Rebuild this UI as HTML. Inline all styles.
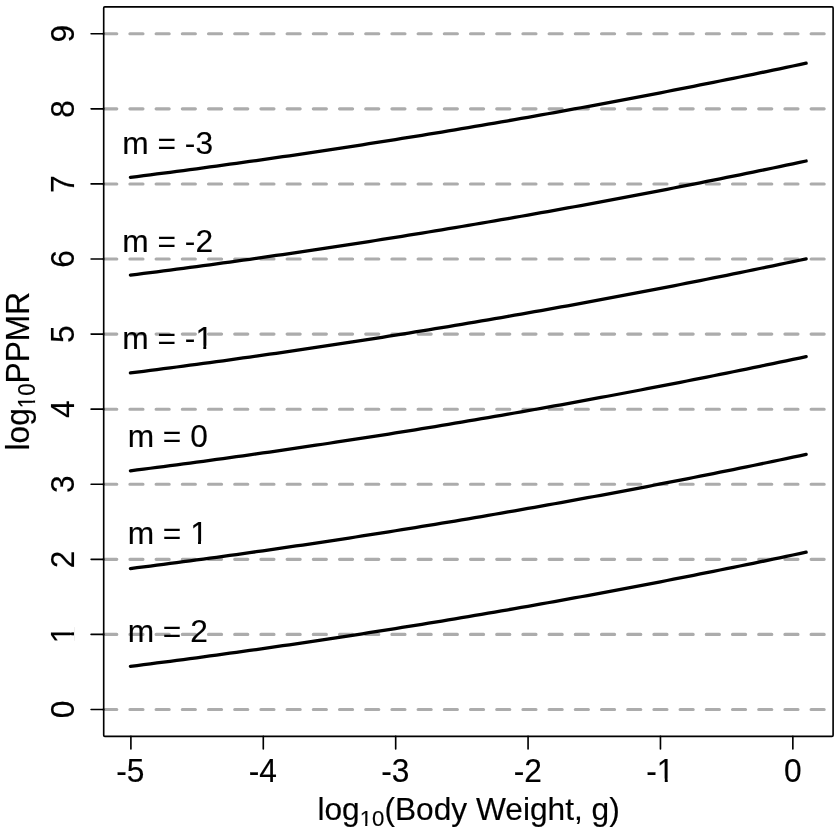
<!DOCTYPE html><html><head><meta charset="utf-8"><style>html,body{margin:0;padding:0;background:#fff;}svg{display:block;}svg text,svg tspan{font-family:"Liberation Sans",Arial,sans-serif;fill:#000;stroke:#000;stroke-width:0.15px;}</style></head><body>
<svg width="840" height="833" viewBox="0 0 840 833">
<rect width="840" height="833" fill="#fff"/>
<g stroke="#acacac" stroke-width="3.1" stroke-linecap="round" stroke-dasharray="13.1 13.1" fill="none">
<line x1="103.7" y1="709.50" x2="833.1" y2="709.50"/>
<line x1="103.7" y1="634.42" x2="833.1" y2="634.42"/>
<line x1="103.7" y1="559.34" x2="833.1" y2="559.34"/>
<line x1="103.7" y1="484.26" x2="833.1" y2="484.26"/>
<line x1="103.7" y1="409.18" x2="833.1" y2="409.18"/>
<line x1="103.7" y1="334.10" x2="833.1" y2="334.10"/>
<line x1="103.7" y1="259.02" x2="833.1" y2="259.02"/>
<line x1="103.7" y1="183.94" x2="833.1" y2="183.94"/>
<line x1="103.7" y1="108.86" x2="833.1" y2="108.86"/>
<line x1="103.7" y1="33.78" x2="833.1" y2="33.78"/>
</g>
<g stroke="#000" stroke-width="3.275" stroke-linecap="round" stroke-linejoin="round" fill="none">
<path d="M130.40,177.37 L137.02,176.54 L143.65,175.69 L150.28,174.85 L156.90,173.99 L163.53,173.13 L170.15,172.27 L176.77,171.40 L183.40,170.53 L190.03,169.64 L196.65,168.76 L203.27,167.87 L209.90,166.97 L216.53,166.06 L223.15,165.16 L229.78,164.24 L236.40,163.32 L243.02,162.39 L249.65,161.46 L256.28,160.53 L262.90,159.58 L269.52,158.63 L276.15,157.68 L282.77,156.72 L289.40,155.76 L296.02,154.79 L302.65,153.81 L309.27,152.83 L315.90,151.84 L322.53,150.85 L329.15,149.85 L335.77,148.84 L342.40,147.83 L349.02,146.82 L355.65,145.80 L362.27,144.77 L368.90,143.74 L375.52,142.70 L382.15,141.66 L388.77,140.61 L395.40,139.55 L402.02,138.49 L408.65,137.43 L415.27,136.36 L421.90,135.28 L428.52,134.20 L435.15,133.11 L441.77,132.01 L448.40,130.91 L455.02,129.81 L461.65,128.70 L468.27,127.58 L474.90,126.46 L481.52,125.33 L488.15,124.20 L494.77,123.06 L501.40,121.92 L508.02,120.77 L514.65,119.61 L521.27,118.45 L527.90,117.28 L534.52,116.11 L541.15,114.93 L547.77,113.75 L554.40,112.56 L561.02,111.37 L567.65,110.17 L574.27,108.96 L580.90,107.75 L587.52,106.53 L594.15,105.31 L600.77,104.08 L607.40,102.85 L614.02,101.61 L620.65,100.36 L627.27,99.11 L633.90,97.85 L640.52,96.59 L647.15,95.32 L653.77,94.05 L660.40,92.77 L667.02,91.49 L673.65,90.20 L680.27,88.90 L686.90,87.60 L693.52,86.30 L700.15,84.98 L706.77,83.66 L713.40,82.34 L720.02,81.01 L726.65,79.68 L733.27,78.34 L739.90,76.99 L746.52,75.64 L753.15,74.28 L759.77,72.92 L766.40,71.55 L773.02,70.18 L779.65,68.80 L786.27,67.41 L792.90,66.02 L799.52,64.63 L806.15,63.22"/>
<path d="M130.40,275.17 L137.02,274.34 L143.65,273.49 L150.28,272.65 L156.90,271.79 L163.53,270.93 L170.15,270.07 L176.77,269.20 L183.40,268.33 L190.03,267.44 L196.65,266.56 L203.27,265.67 L209.90,264.77 L216.53,263.86 L223.15,262.96 L229.78,262.04 L236.40,261.12 L243.02,260.19 L249.65,259.26 L256.28,258.33 L262.90,257.38 L269.52,256.43 L276.15,255.48 L282.77,254.52 L289.40,253.56 L296.02,252.59 L302.65,251.61 L309.27,250.63 L315.90,249.64 L322.53,248.65 L329.15,247.65 L335.77,246.64 L342.40,245.63 L349.02,244.62 L355.65,243.60 L362.27,242.57 L368.90,241.54 L375.52,240.50 L382.15,239.46 L388.77,238.41 L395.40,237.35 L402.02,236.29 L408.65,235.23 L415.27,234.16 L421.90,233.08 L428.52,232.00 L435.15,230.91 L441.77,229.81 L448.40,228.71 L455.02,227.61 L461.65,226.50 L468.27,225.38 L474.90,224.26 L481.52,223.13 L488.15,222.00 L494.77,220.86 L501.40,219.72 L508.02,218.57 L514.65,217.41 L521.27,216.25 L527.90,215.08 L534.52,213.91 L541.15,212.73 L547.77,211.55 L554.40,210.36 L561.02,209.17 L567.65,207.97 L574.27,206.76 L580.90,205.55 L587.52,204.33 L594.15,203.11 L600.77,201.88 L607.40,200.65 L614.02,199.41 L620.65,198.16 L627.27,196.91 L633.90,195.65 L640.52,194.39 L647.15,193.12 L653.77,191.85 L660.40,190.57 L667.02,189.29 L673.65,188.00 L680.27,186.70 L686.90,185.40 L693.52,184.10 L700.15,182.78 L706.77,181.46 L713.40,180.14 L720.02,178.81 L726.65,177.48 L733.27,176.14 L739.90,174.79 L746.52,173.44 L753.15,172.08 L759.77,170.72 L766.40,169.35 L773.02,167.98 L779.65,166.60 L786.27,165.21 L792.90,163.82 L799.52,162.43 L806.15,161.02"/>
<path d="M130.40,372.97 L137.02,372.14 L143.65,371.29 L150.28,370.45 L156.90,369.59 L163.53,368.73 L170.15,367.87 L176.77,367.00 L183.40,366.13 L190.03,365.24 L196.65,364.36 L203.27,363.47 L209.90,362.57 L216.53,361.66 L223.15,360.76 L229.78,359.84 L236.40,358.92 L243.02,357.99 L249.65,357.06 L256.28,356.13 L262.90,355.18 L269.52,354.23 L276.15,353.28 L282.77,352.32 L289.40,351.36 L296.02,350.39 L302.65,349.41 L309.27,348.43 L315.90,347.44 L322.53,346.45 L329.15,345.45 L335.77,344.44 L342.40,343.43 L349.02,342.42 L355.65,341.40 L362.27,340.37 L368.90,339.34 L375.52,338.30 L382.15,337.26 L388.77,336.21 L395.40,335.15 L402.02,334.09 L408.65,333.03 L415.27,331.96 L421.90,330.88 L428.52,329.80 L435.15,328.71 L441.77,327.61 L448.40,326.51 L455.02,325.41 L461.65,324.30 L468.27,323.18 L474.90,322.06 L481.52,320.93 L488.15,319.80 L494.77,318.66 L501.40,317.52 L508.02,316.37 L514.65,315.21 L521.27,314.05 L527.90,312.88 L534.52,311.71 L541.15,310.53 L547.77,309.35 L554.40,308.16 L561.02,306.97 L567.65,305.77 L574.27,304.56 L580.90,303.35 L587.52,302.13 L594.15,300.91 L600.77,299.68 L607.40,298.45 L614.02,297.21 L620.65,295.96 L627.27,294.71 L633.90,293.45 L640.52,292.19 L647.15,290.92 L653.77,289.65 L660.40,288.37 L667.02,287.09 L673.65,285.80 L680.27,284.50 L686.90,283.20 L693.52,281.90 L700.15,280.58 L706.77,279.26 L713.40,277.94 L720.02,276.61 L726.65,275.28 L733.27,273.94 L739.90,272.59 L746.52,271.24 L753.15,269.88 L759.77,268.52 L766.40,267.15 L773.02,265.78 L779.65,264.40 L786.27,263.01 L792.90,261.62 L799.52,260.23 L806.15,258.82"/>
<path d="M130.40,470.77 L137.02,469.94 L143.65,469.09 L150.28,468.25 L156.90,467.39 L163.53,466.53 L170.15,465.67 L176.77,464.80 L183.40,463.93 L190.03,463.04 L196.65,462.16 L203.27,461.27 L209.90,460.37 L216.53,459.46 L223.15,458.56 L229.78,457.64 L236.40,456.72 L243.02,455.79 L249.65,454.86 L256.28,453.93 L262.90,452.98 L269.52,452.03 L276.15,451.08 L282.77,450.12 L289.40,449.16 L296.02,448.19 L302.65,447.21 L309.27,446.23 L315.90,445.24 L322.53,444.25 L329.15,443.25 L335.77,442.24 L342.40,441.23 L349.02,440.22 L355.65,439.20 L362.27,438.17 L368.90,437.14 L375.52,436.10 L382.15,435.06 L388.77,434.01 L395.40,432.95 L402.02,431.89 L408.65,430.83 L415.27,429.76 L421.90,428.68 L428.52,427.60 L435.15,426.51 L441.77,425.41 L448.40,424.31 L455.02,423.21 L461.65,422.10 L468.27,420.98 L474.90,419.86 L481.52,418.73 L488.15,417.60 L494.77,416.46 L501.40,415.32 L508.02,414.17 L514.65,413.01 L521.27,411.85 L527.90,410.68 L534.52,409.51 L541.15,408.33 L547.77,407.15 L554.40,405.96 L561.02,404.77 L567.65,403.57 L574.27,402.36 L580.90,401.15 L587.52,399.93 L594.15,398.71 L600.77,397.48 L607.40,396.25 L614.02,395.01 L620.65,393.76 L627.27,392.51 L633.90,391.25 L640.52,389.99 L647.15,388.72 L653.77,387.45 L660.40,386.17 L667.02,384.89 L673.65,383.60 L680.27,382.30 L686.90,381.00 L693.52,379.70 L700.15,378.38 L706.77,377.06 L713.40,375.74 L720.02,374.41 L726.65,373.08 L733.27,371.74 L739.90,370.39 L746.52,369.04 L753.15,367.68 L759.77,366.32 L766.40,364.95 L773.02,363.58 L779.65,362.20 L786.27,360.81 L792.90,359.42 L799.52,358.03 L806.15,356.62"/>
<path d="M130.40,568.57 L137.02,567.74 L143.65,566.89 L150.28,566.05 L156.90,565.19 L163.53,564.33 L170.15,563.47 L176.77,562.60 L183.40,561.73 L190.03,560.84 L196.65,559.96 L203.27,559.07 L209.90,558.17 L216.53,557.26 L223.15,556.36 L229.78,555.44 L236.40,554.52 L243.02,553.59 L249.65,552.66 L256.28,551.73 L262.90,550.78 L269.52,549.83 L276.15,548.88 L282.77,547.92 L289.40,546.96 L296.02,545.99 L302.65,545.01 L309.27,544.03 L315.90,543.04 L322.53,542.05 L329.15,541.05 L335.77,540.04 L342.40,539.03 L349.02,538.02 L355.65,537.00 L362.27,535.97 L368.90,534.94 L375.52,533.90 L382.15,532.86 L388.77,531.81 L395.40,530.75 L402.02,529.69 L408.65,528.63 L415.27,527.56 L421.90,526.48 L428.52,525.40 L435.15,524.31 L441.77,523.21 L448.40,522.11 L455.02,521.01 L461.65,519.90 L468.27,518.78 L474.90,517.66 L481.52,516.53 L488.15,515.40 L494.77,514.26 L501.40,513.12 L508.02,511.97 L514.65,510.81 L521.27,509.65 L527.90,508.48 L534.52,507.31 L541.15,506.13 L547.77,504.95 L554.40,503.76 L561.02,502.57 L567.65,501.37 L574.27,500.16 L580.90,498.95 L587.52,497.73 L594.15,496.51 L600.77,495.28 L607.40,494.05 L614.02,492.81 L620.65,491.56 L627.27,490.31 L633.90,489.05 L640.52,487.79 L647.15,486.52 L653.77,485.25 L660.40,483.97 L667.02,482.69 L673.65,481.40 L680.27,480.10 L686.90,478.80 L693.52,477.50 L700.15,476.18 L706.77,474.86 L713.40,473.54 L720.02,472.21 L726.65,470.88 L733.27,469.54 L739.90,468.19 L746.52,466.84 L753.15,465.48 L759.77,464.12 L766.40,462.75 L773.02,461.38 L779.65,460.00 L786.27,458.61 L792.90,457.22 L799.52,455.83 L806.15,454.42"/>
<path d="M130.40,666.37 L137.02,665.54 L143.65,664.69 L150.28,663.85 L156.90,662.99 L163.53,662.13 L170.15,661.27 L176.77,660.40 L183.40,659.53 L190.03,658.64 L196.65,657.76 L203.27,656.87 L209.90,655.97 L216.53,655.06 L223.15,654.16 L229.78,653.24 L236.40,652.32 L243.02,651.39 L249.65,650.46 L256.28,649.53 L262.90,648.58 L269.52,647.63 L276.15,646.68 L282.77,645.72 L289.40,644.76 L296.02,643.79 L302.65,642.81 L309.27,641.83 L315.90,640.84 L322.53,639.85 L329.15,638.85 L335.77,637.84 L342.40,636.83 L349.02,635.82 L355.65,634.80 L362.27,633.77 L368.90,632.74 L375.52,631.70 L382.15,630.66 L388.77,629.61 L395.40,628.55 L402.02,627.49 L408.65,626.43 L415.27,625.36 L421.90,624.28 L428.52,623.20 L435.15,622.11 L441.77,621.01 L448.40,619.91 L455.02,618.81 L461.65,617.70 L468.27,616.58 L474.90,615.46 L481.52,614.33 L488.15,613.20 L494.77,612.06 L501.40,610.92 L508.02,609.77 L514.65,608.61 L521.27,607.45 L527.90,606.28 L534.52,605.11 L541.15,603.93 L547.77,602.75 L554.40,601.56 L561.02,600.37 L567.65,599.17 L574.27,597.96 L580.90,596.75 L587.52,595.53 L594.15,594.31 L600.77,593.08 L607.40,591.85 L614.02,590.61 L620.65,589.36 L627.27,588.11 L633.90,586.85 L640.52,585.59 L647.15,584.32 L653.77,583.05 L660.40,581.77 L667.02,580.49 L673.65,579.20 L680.27,577.90 L686.90,576.60 L693.52,575.30 L700.15,573.98 L706.77,572.66 L713.40,571.34 L720.02,570.01 L726.65,568.68 L733.27,567.34 L739.90,565.99 L746.52,564.64 L753.15,563.28 L759.77,561.92 L766.40,560.55 L773.02,559.18 L779.65,557.80 L786.27,556.41 L792.90,555.02 L799.52,553.63 L806.15,552.22"/>
</g>
<rect x="103.7" y="6.85" width="729.40" height="729.55" rx="1.1" fill="none" stroke="#000" stroke-width="1.64" stroke-linejoin="round"/>
<g stroke="#000" stroke-width="1.64" stroke-linecap="round">
<line x1="130.90" y1="736.4" x2="130.90" y2="748.90"/>
<line x1="263.29" y1="736.4" x2="263.29" y2="748.90"/>
<line x1="395.68" y1="736.4" x2="395.68" y2="748.90"/>
<line x1="528.07" y1="736.4" x2="528.07" y2="748.90"/>
<line x1="660.46" y1="736.4" x2="660.46" y2="748.90"/>
<line x1="792.85" y1="736.4" x2="792.85" y2="748.90"/>
<line x1="103.7" y1="709.50" x2="91.10" y2="709.50"/>
<line x1="103.7" y1="634.42" x2="91.10" y2="634.42"/>
<line x1="103.7" y1="559.34" x2="91.10" y2="559.34"/>
<line x1="103.7" y1="484.26" x2="91.10" y2="484.26"/>
<line x1="103.7" y1="409.18" x2="91.10" y2="409.18"/>
<line x1="103.7" y1="334.10" x2="91.10" y2="334.10"/>
<line x1="103.7" y1="259.02" x2="91.10" y2="259.02"/>
<line x1="103.7" y1="183.94" x2="91.10" y2="183.94"/>
<line x1="103.7" y1="108.86" x2="91.10" y2="108.86"/>
<line x1="103.7" y1="33.78" x2="91.10" y2="33.78"/>
</g>
<g>
<text x="0" y="0" transform="translate(130.40,782.10) scale(1,1.04)" font-size="31.7" text-anchor="middle"><tspan dy="0.9">-</tspan><tspan dy="-0.9">5</tspan></text>
</g>
<g>
<text x="0" y="0" transform="translate(262.90,782.10) scale(1,1.04)" font-size="31.7" text-anchor="middle"><tspan dy="0.9">-</tspan><tspan dy="-0.9">4</tspan></text>
</g>
<g>
<text x="0" y="0" transform="translate(395.40,782.10) scale(1,1.04)" font-size="31.7" text-anchor="middle"><tspan dy="0.9">-</tspan><tspan dy="-0.9">3</tspan></text>
</g>
<g>
<text x="0" y="0" transform="translate(527.90,782.10) scale(1,1.04)" font-size="31.7" text-anchor="middle"><tspan dy="0.9">-</tspan><tspan dy="-0.9">2</tspan></text>
</g>
<g>
<text x="0" y="0" transform="translate(660.40,782.10) scale(1,1.04)" font-size="31.7" text-anchor="middle"><tspan dy="0.9">-</tspan><tspan dy="-0.9">1</tspan></text>
<rect x="658.28" y="778.64" width="6.48" height="4.16" fill="#fff"/>
<rect x="667.72" y="778.64" width="6.43" height="4.16" fill="#fff"/>
</g>
<g>
<text x="0" y="0" transform="translate(792.90,782.10) scale(1,1.04)" font-size="31.7" text-anchor="middle">0</text>
</g>
<g transform="translate(73.5,709.50) rotate(-90)">
<text x="0" y="0" transform="translate(0.00,0.00) scale(1,1.04)" font-size="31.7" text-anchor="middle">0</text>
</g>
<g transform="translate(73.5,634.42) rotate(-90)">
<text x="0" y="0" transform="translate(0.00,0.00) scale(1,1.04)" font-size="31.7" text-anchor="middle">1</text>
<rect x="-7.40" y="-3.46" width="6.48" height="4.16" fill="#fff"/>
<rect x="2.04" y="-3.46" width="6.43" height="4.16" fill="#fff"/>
</g>
<g transform="translate(73.5,559.34) rotate(-90)">
<text x="0" y="0" transform="translate(0.00,0.00) scale(1,1.04)" font-size="31.7" text-anchor="middle">2</text>
</g>
<g transform="translate(73.5,484.26) rotate(-90)">
<text x="0" y="0" transform="translate(0.00,0.00) scale(1,1.04)" font-size="31.7" text-anchor="middle">3</text>
</g>
<g transform="translate(73.5,409.18) rotate(-90)">
<text x="0" y="0" transform="translate(0.00,0.00) scale(1,1.04)" font-size="31.7" text-anchor="middle">4</text>
</g>
<g transform="translate(73.5,334.10) rotate(-90)">
<text x="0" y="0" transform="translate(0.00,0.00) scale(1,1.04)" font-size="31.7" text-anchor="middle">5</text>
</g>
<g transform="translate(73.5,259.02) rotate(-90)">
<text x="0" y="0" transform="translate(0.00,0.00) scale(1,1.04)" font-size="31.7" text-anchor="middle">6</text>
</g>
<g transform="translate(73.5,183.94) rotate(-90)">
<text x="0" y="0" transform="translate(0.00,0.00) scale(1,1.04)" font-size="31.7" text-anchor="middle">7</text>
</g>
<g transform="translate(73.5,108.86) rotate(-90)">
<text x="0" y="0" transform="translate(0.00,0.00) scale(1,1.04)" font-size="31.7" text-anchor="middle">8</text>
</g>
<g transform="translate(73.5,33.78) rotate(-90)">
<text x="0" y="0" transform="translate(0.00,0.00) scale(1,1.04)" font-size="31.7" text-anchor="middle">9</text>
</g>
<g>
<text x="167.70" y="153.91" font-size="31.7" text-anchor="middle">m = -3</text>
</g>
<g>
<text x="167.70" y="251.51" font-size="31.7" text-anchor="middle">m = -2</text>
</g>
<g>
<text x="167.70" y="349.12" font-size="31.7" text-anchor="middle">m = -1</text>
<rect x="196.82" y="345.75" width="6.48" height="4.07" fill="#fff"/>
<rect x="206.26" y="345.75" width="6.43" height="4.07" fill="#fff"/>
</g>
<g>
<text x="167.70" y="446.72" font-size="31.7" text-anchor="middle">m = 0</text>
</g>
<g>
<text x="167.70" y="544.32" font-size="31.7" text-anchor="middle">m = 1</text>
<rect x="191.54" y="540.95" width="6.48" height="4.07" fill="#fff"/>
<rect x="200.98" y="540.95" width="6.43" height="4.07" fill="#fff"/>
</g>
<g>
<text x="167.70" y="641.93" font-size="31.7" text-anchor="middle">m = 2</text>
</g>
<g>
<text x="468.60" y="820.20" font-size="31.7" text-anchor="middle">log<tspan font-size="22.2" dy="6.0">10</tspan><tspan dy="-6.0">(Body Weight, g)</tspan></text>
<rect x="360.38" y="823.54" width="4.81" height="3.36" fill="#fff"/>
<rect x="367.32" y="823.54" width="4.84" height="3.36" fill="#fff"/>
</g>
<g transform="translate(28.8,371.2) rotate(-90)">
<text x="0" y="0" transform="translate(0.00,0.00) scale(1,1.04)" font-size="31.7" text-anchor="middle">log<tspan font-size="22.2" dy="6.0">10</tspan><tspan dy="-6.0">PPMR</tspan></text>
<rect x="-36.27" y="3.52" width="4.81" height="3.42" fill="#fff"/>
<rect x="-29.34" y="3.52" width="4.84" height="3.42" fill="#fff"/>
</g>
</svg></body></html>
